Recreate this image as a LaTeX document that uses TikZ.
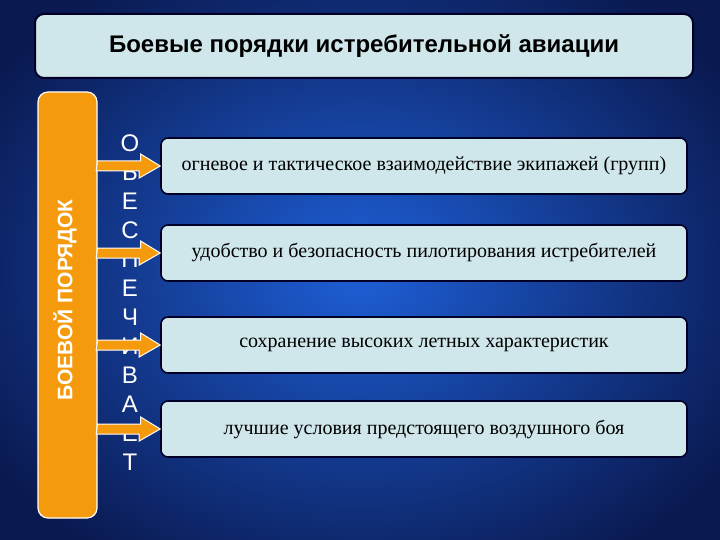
\documentclass[tikz,border=0pt]{standalone}
\usepackage{fontspec}
\setmainfont{Liberation Serif}
\setsansfont{Liberation Sans}
\begin{document}
\begin{tikzpicture}[x=1pt,y=-1pt,
  rowbox/.style={draw=black!85!blue,line width=1.6pt,fill=boxc,rounded corners=7pt,minimum width=526pt,minimum height=56pt,font=\fontsize{20}{22}\selectfont},
  letter/.style={text=white,font=\sffamily\fontsize{24}{26}\selectfont},
  arr/.style={draw=white,line width=1pt,fill=orng}]
\definecolor{boxc}{HTML}{CFE6EA}
\definecolor{orng}{HTML}{F59A0C}
\useasboundingbox (0,0) rectangle (720,540);
\shade[inner color={rgb,255:red,30;green,95;blue,215},outer color={rgb,255:red,10;green,25;blue,80}] (-80,-80) rectangle (800,620);
\node[draw=black!85!blue,line width=2pt,fill=boxc,rounded corners=9pt,minimum width=658pt,minimum height=64pt,font=\sffamily\bfseries\fontsize{24}{26}\selectfont] (title) at (364,46) {Боевые порядки истребительной авиации};
\node[draw=white,line width=1.2pt,fill=orng,rounded corners=10pt,minimum width=59pt,minimum height=426pt] (bar) at (67.5,305) {};
\node[rotate=90,text=white,font=\sffamily\bfseries\fontsize{21}{23}\selectfont] (bartext) at (65,300) {БОЕВОЙ ПОРЯДОК};
\foreach \l [count=\i] in {О,Б,Е,С,П,Е,Ч,И,В,А,Е,Т}
  \node[letter] (l\i) at (130,{143+(\i-1)*29}) {\l};
\node[rowbox] (r1) at (424,166) {огневое и тактическое взаимодействие экипажей (групп)};
\node[rowbox] (r2) at (424,253) {удобство и безопасность пилотирования истребителей};
\node[rowbox] (r3) at (424,345) {сохранение высоких летных характеристик};
\node[rowbox] (r4) at (424,429) {лучшие условия предстоящего воздушного боя};
\foreach \i in {1,...,4}
  \draw[arr] (bar.east |- r\i.west) ++(0,-5) -- ++(43,0) -- ++(0,-7) -- (r\i.west) -- ++(-21,12) -- ++(0,-7) -- ++(-43,0) -- cycle;
\end{tikzpicture}
\end{document}
